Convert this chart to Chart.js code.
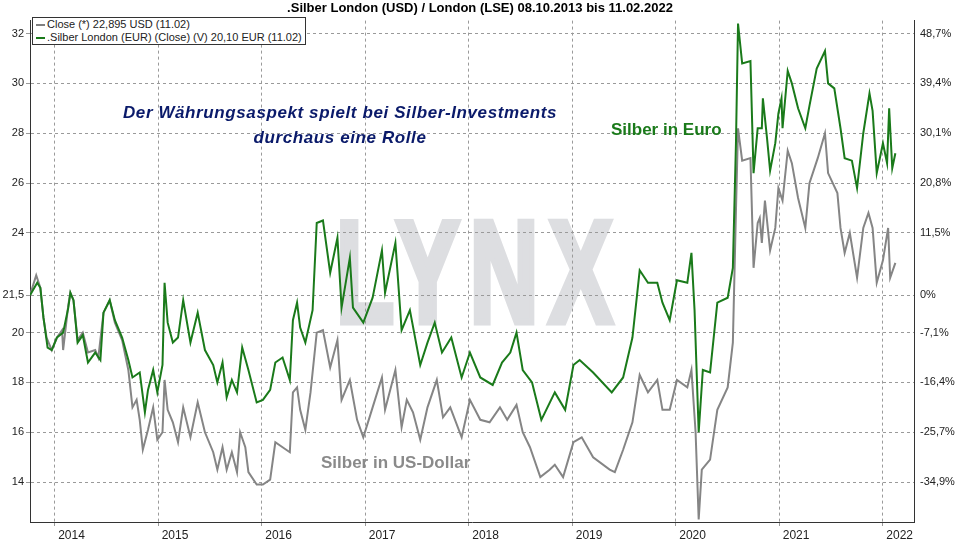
<!DOCTYPE html>
<html><head><meta charset="utf-8">
<script src="https://cdn.jsdelivr.net/npm/chart.js@4.4.1/dist/chart.umd.min.js"></script>
<style>
html,body{margin:0;padding:0;background:#fff;}
#wrap{position:relative;width:960px;height:540px;font-family:"Liberation Sans",Arial,sans-serif;}
#wm{position:absolute;left:336px;top:201px;font-size:144px;font-weight:bold;color:#dddee1;-webkit-text-stroke:7px #dddee1;letter-spacing:16px;line-height:144px;z-index:0;transform:scaleX(0.66);transform-origin:0 0;font-family:"Liberation Sans",Arial,sans-serif;}
canvas{position:relative;z-index:1;}
.t{position:absolute;z-index:2;font-weight:bold;white-space:nowrap;}
#legend{position:absolute;left:32px;top:17px;border:1px solid #333;background:#fff;z-index:3;font-size:11px;padding:0 3px;line-height:13px;color:#222;}
#legend span{display:inline-block;width:9px;height:2px;vertical-align:middle;margin-right:2px;}
</style></head><body>
<div id="wrap">
<div id="wm">LYNX</div>
<canvas id="c" width="960" height="540"></canvas>
<div id="legend"><div><span style="background:#808080"></span>Close (*) 22,895 USD (11.02)</div><div><span style="background:#1a7a1a"></span>.Silber London (EUR) (Close) (V) 20,10 EUR (11.02)</div></div>
<div class="t" style="left:100px;top:100px;font-size:17px;letter-spacing:0.6px;color:#0a1a6a;font-style:italic;text-align:center;width:480px;line-height:25px;">Der Währungsaspekt spielt bei Silber-Investments<br>durchaus eine Rolle</div>
<div class="t" style="left:611px;top:120px;font-size:17px;color:#1a7a1a;">Silber in Euro</div>
<div class="t" style="left:321px;top:453px;font-size:17px;color:#8a8a8a;">Silber in US-Dollar</div>
</div>
<script>
const titleText = ".Silber London (USD) / London (LSE) 08.10.2013 bis 11.02.2022";
const yearTicks = [2014,2015,2016,2017,2018,2019,2020,2021,2022];
const leftTicks = [14,16,18,20,21.5,24,26,28,30,32];
const leftLabels = ["14","16","18","20","21,5","24","26","28","30","32"];
const rightLabels = ["-34,9%","-25,7%","-16,4%","-7,1%","0%","11,5%","20,8%","30,1%","39,4%","48,7%"];

const usdDates = [2013.76,2013.82,2013.86,2013.89,2013.92,2013.97,2014.02,2014.07,2014.08,2014.13,2014.15,2014.18,2014.22,2014.27,2014.32,2014.39,2014.42,2014.47,2014.53,2014.58,2014.65,2014.71,2014.75,2014.79,2014.82,2014.85,2014.90,2014.95,2014.99,2015.04,2015.06,2015.09,2015.14,2015.19,2015.24,2015.31,2015.38,2015.45,2015.53,2015.57,2015.62,2015.66,2015.71,2015.76,2015.79,2015.84,2015.87,2015.95,2016.01,2016.08,2016.13,2016.20,2016.27,2016.30,2016.34,2016.37,2016.42,2016.47,2016.53,2016.59,2016.66,2016.73,2016.77,2016.85,2016.92,2016.98,2017.07,2017.16,2017.19,2017.29,2017.35,2017.40,2017.46,2017.53,2017.60,2017.69,2017.75,2017.82,2017.93,2018.01,2018.11,2018.20,2018.30,2018.37,2018.46,2018.52,2018.59,2018.69,2018.78,2018.83,2018.91,2019.01,2019.09,2019.20,2019.36,2019.41,2019.49,2019.58,2019.65,2019.73,2019.82,2019.87,2019.94,2020.01,2020.11,2020.15,2020.19,2020.22,2020.25,2020.33,2020.40,2020.50,2020.55,2020.58,2020.60,2020.64,2020.72,2020.75,2020.79,2020.81,2020.83,2020.86,2020.91,2020.96,2020.99,2021.03,2021.08,2021.12,2021.18,2021.25,2021.29,2021.37,2021.44,2021.47,2021.56,2021.59,2021.63,2021.68,2021.75,2021.81,2021.86,2021.90,2021.94,2022.00,2022.05,2022.07,2022.12];
const usdValues = [21.5,22.3,21.8,20.6,19.8,19.3,19.8,20.1,19.3,21.1,21.6,21.3,19.7,20.0,19.2,19.3,19.0,20.8,21.3,20.4,19.7,18.5,17.0,17.3,16.5,15.3,16.1,17.0,15.7,16.0,18.1,16.9,16.4,15.6,17.0,15.8,17.2,16.0,15.2,14.5,15.4,14.5,15.2,14.4,16.0,15.4,14.4,13.9,13.9,14.1,15.6,15.4,15.2,17.6,17.8,16.9,16.1,17.6,20.0,20.1,18.6,19.7,17.3,18.1,16.5,15.8,17.0,18.2,16.9,18.5,16.2,17.3,16.8,15.7,17.0,18.1,16.6,17.0,15.8,17.3,16.5,16.4,17.0,16.5,17.1,16.0,15.4,14.2,14.5,14.7,14.2,15.6,15.8,15.0,14.5,14.4,15.3,16.4,18.3,17.6,18.1,16.9,16.9,18.1,17.8,18.5,16.0,12.5,14.5,14.9,16.9,17.8,19.6,24.9,28.2,26.9,27.0,22.6,24.4,24.6,23.6,25.3,23.3,24.2,25.8,25.3,27.3,26.8,25.4,24.2,26.0,27.0,28.0,26.4,25.6,24.2,23.2,24.0,22.2,24.2,24.8,24.2,22.0,22.9,24.2,22.2,22.8];

const eurDates = [2013.76,2013.83,2013.86,2013.89,2013.93,2013.97,2014.02,2014.08,2014.13,2014.15,2014.18,2014.22,2014.27,2014.32,2014.39,2014.44,2014.47,2014.53,2014.58,2014.65,2014.71,2014.75,2014.82,2014.87,2014.90,2014.95,2014.99,2015.04,2015.06,2015.09,2015.14,2015.19,2015.24,2015.31,2015.38,2015.45,2015.53,2015.57,2015.62,2015.66,2015.71,2015.76,2015.81,2015.87,2015.95,2016.01,2016.08,2016.13,2016.20,2016.27,2016.30,2016.34,2016.37,2016.42,2016.49,2016.53,2016.59,2016.66,2016.73,2016.77,2016.85,2016.88,2016.98,2017.07,2017.16,2017.19,2017.29,2017.35,2017.43,2017.53,2017.60,2017.67,2017.74,2017.83,2017.93,2018.01,2018.11,2018.23,2018.32,2018.40,2018.46,2018.52,2018.61,2018.70,2018.83,2018.93,2019.01,2019.07,2019.20,2019.38,2019.49,2019.58,2019.65,2019.73,2019.82,2019.87,2019.94,2020.01,2020.11,2020.15,2020.18,2020.22,2020.26,2020.33,2020.40,2020.50,2020.55,2020.58,2020.60,2020.64,2020.72,2020.75,2020.79,2020.83,2020.84,2020.88,2020.91,2020.96,2020.99,2021.02,2021.03,2021.08,2021.12,2021.18,2021.25,2021.29,2021.36,2021.44,2021.47,2021.53,2021.59,2021.63,2021.70,2021.75,2021.81,2021.87,2021.90,2021.94,2022.00,2022.04,2022.06,2022.09,2022.12];
const eurValues = [21.5,22.0,21.8,20.6,19.4,19.3,19.8,20.0,21.0,21.6,21.3,19.6,19.9,18.8,19.2,18.9,20.8,21.3,20.5,19.8,18.9,18.2,18.4,16.8,17.7,18.5,17.6,18.7,22.0,20.4,19.6,19.8,21.3,19.6,20.8,19.3,18.7,18.0,18.8,17.4,18.1,17.6,19.4,18.5,17.2,17.3,17.7,18.8,19.0,18.1,20.5,21.2,20.2,19.6,20.9,24.4,24.5,22.4,23.8,21.0,23.0,21.0,20.4,21.4,23.3,21.6,23.6,20.1,20.9,18.7,19.6,20.4,19.2,19.8,18.2,19.2,18.2,17.9,18.8,19.2,20.0,18.5,18.0,16.5,17.6,16.9,18.7,18.9,18.4,17.6,18.2,19.8,22.5,22.0,22.0,21.2,20.5,22.1,22.0,23.2,20.9,16.0,18.5,18.4,21.2,21.4,22.6,27.6,32.4,30.8,30.9,26.4,28.2,28.2,29.4,27.8,26.5,27.6,28.8,29.4,28.2,30.5,30.0,29.0,28.2,29.1,30.6,31.3,30.0,29.8,28.2,27.0,26.9,25.8,28.0,29.6,28.9,26.4,27.6,26.8,29.0,26.6,27.2];

const usd = usdDates.map((d,i)=>({x:d,y:usdValues[i]}));
const eur = eurDates.map((d,i)=>({x:d,y:eurValues[i]}));
const gridColor = '#9a9a9a';
const tickFont = {family:'"Liberation Sans", Arial, sans-serif', size:11};

new Chart(document.getElementById('c'), {
  type:'line',
  data:{datasets:[
    {label:'EUR', data:eur, borderColor:'#1a7a1a', borderWidth:2, pointRadius:0, tension:0, order:0},
    {label:'USD', data:usd, borderColor:'#858585', borderWidth:2, pointRadius:0, tension:0, order:1}
  ]},
  options:{
    responsive:false, animation:false,
    layout:{padding:{top:0,bottom:0,left:0,right:0}},
    plugins:{legend:{display:false}, tooltip:{enabled:false},
      title:{display:true,text:titleText,font:{family:'"Liberation Sans", Arial, sans-serif',size:13,weight:'bold'},color:'#000',padding:{top:1,bottom:4}}},
    scales:{
      x:{type:'linear',min:2013.76,max:2022.30,
        afterBuildTicks:s=>{s.ticks=yearTicks.map(v=>({value:v}));},
        afterFit:s=>{s.height=18;},
        ticks:{align:'start',font:{family:'"Liberation Sans", Arial, sans-serif', size:12},color:'#222',padding:2,callback:v=>' '+String(v),maxRotation:0},
        grid:{color:gridColor,drawTicks:true,tickLength:4},
        border:{display:true,color:'#333',dash:[3,3]}},
      y:{position:'left',min:12.4,max:32.52,
        afterBuildTicks:s=>{s.ticks=leftTicks.map(v=>({value:v}));},
        afterFit:s=>{s.width=30;},
        ticks:{font:tickFont,color:'#222',padding:2,callback:(v,i)=>leftLabels[i]},
        grid:{color:gridColor,tickLength:4},
        border:{color:'#333',dash:[3,3]}},
      y2:{position:'right',min:12.4,max:32.52,
        afterBuildTicks:s=>{s.ticks=leftTicks.map(v=>({value:v}));},
        afterFit:s=>{s.width=46;},
        ticks:{font:tickFont,color:'#222',padding:2,callback:(v,i)=>rightLabels[i]},
        grid:{display:false,drawOnChartArea:false,tickLength:4},
        border:{color:'#333'}}
    }
  }
});
</script>
</body></html>
